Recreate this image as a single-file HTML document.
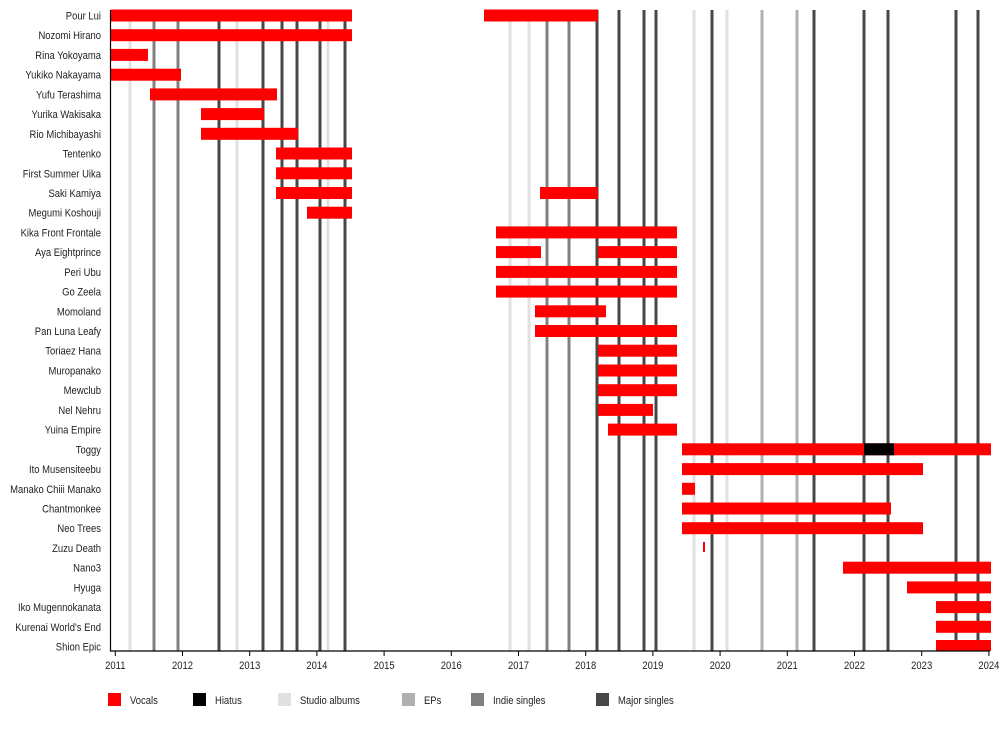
<!DOCTYPE html>
<html><head><meta charset="utf-8"><style>
html,body{margin:0;padding:0;background:#fff;}
svg{display:block;font-family:"Liberation Sans",sans-serif;}
</style></head><body>
<svg width="1000" height="745" viewBox="0 0 1000 745" xmlns="http://www.w3.org/2000/svg">
<g stroke-width="3">
<g stroke="#e0e0e0">
<line x1="130" y1="10" x2="130" y2="651"/><line x1="237" y1="10" x2="237" y2="651"/><line x1="328" y1="10" x2="328" y2="651"/><line x1="510" y1="10" x2="510" y2="651"/><line x1="529" y1="10" x2="529" y2="651"/><line x1="694" y1="10" x2="694" y2="651"/><line x1="727" y1="10" x2="727" y2="651"/>
</g>
<g stroke="#b0b0b0">
<line x1="762" y1="10" x2="762" y2="651"/><line x1="797" y1="10" x2="797" y2="651"/>
</g>
<g stroke="#808080">
<line x1="154" y1="10" x2="154" y2="651"/><line x1="178" y1="10" x2="178" y2="651"/><line x1="547" y1="10" x2="547" y2="651"/><line x1="569" y1="10" x2="569" y2="651"/>
</g>
<g stroke="#474747">
<line x1="219" y1="10" x2="219" y2="651"/><line x1="263" y1="10" x2="263" y2="651"/><line x1="282" y1="10" x2="282" y2="651"/><line x1="297" y1="10" x2="297" y2="651"/><line x1="320" y1="10" x2="320" y2="651"/><line x1="345" y1="10" x2="345" y2="651"/><line x1="597" y1="10" x2="597" y2="651"/><line x1="619" y1="10" x2="619" y2="651"/><line x1="644" y1="10" x2="644" y2="651"/><line x1="656" y1="10" x2="656" y2="651"/><line x1="712" y1="10" x2="712" y2="651"/><line x1="814" y1="10" x2="814" y2="651"/><line x1="864" y1="10" x2="864" y2="651"/><line x1="888" y1="10" x2="888" y2="651"/><line x1="956" y1="10" x2="956" y2="651"/><line x1="978" y1="10" x2="978" y2="651"/>
</g>
</g>
<g fill="#ff0000">
<rect x="111" y="9.5" width="241" height="12"/><rect x="484" y="9.5" width="114" height="12"/>
<rect x="111" y="29.2" width="241" height="12"/>
<rect x="111" y="48.9" width="37" height="12"/>
<rect x="111" y="68.7" width="70" height="12"/>
<rect x="150" y="88.4" width="127" height="12"/>
<rect x="201" y="108.1" width="63" height="12"/>
<rect x="201" y="127.8" width="97" height="12"/>
<rect x="276" y="147.5" width="76" height="12"/>
<rect x="276" y="167.3" width="76" height="12"/>
<rect x="276" y="187" width="76" height="12"/><rect x="540" y="187" width="58" height="12"/>
<rect x="307" y="206.7" width="45" height="12"/>
<rect x="496" y="226.4" width="181" height="12"/>
<rect x="496" y="246.1" width="45" height="12"/><rect x="598" y="246.1" width="79" height="12"/>
<rect x="496" y="265.9" width="181" height="12"/>
<rect x="496" y="285.6" width="181" height="12"/>
<rect x="535" y="305.3" width="71" height="12"/>
<rect x="535" y="325" width="142" height="12"/>
<rect x="598" y="344.7" width="79" height="12"/>
<rect x="598" y="364.5" width="79" height="12"/>
<rect x="598" y="384.2" width="79" height="12"/>
<rect x="598" y="403.9" width="55" height="12"/>
<rect x="608" y="423.6" width="69" height="12"/>
<rect x="682" y="443.3" width="309" height="12"/>
<rect x="682" y="463.1" width="241" height="12"/>
<rect x="682" y="482.8" width="13" height="12"/>
<rect x="682" y="502.5" width="209" height="12"/>
<rect x="682" y="522.2" width="241" height="12"/>
<rect x="703" y="542" width="2" height="10"/>
<rect x="843" y="561.7" width="148" height="12"/>
<rect x="907" y="581.4" width="84" height="12"/>
<rect x="936" y="601.1" width="55" height="12"/>
<rect x="936" y="620.8" width="55" height="12"/>
<rect x="936" y="640" width="55" height="11"/>
</g>
<rect x="864" y="443.3" width="30" height="12" fill="#000"/>
<line x1="110.5" y1="10" x2="110.5" y2="651" stroke="#000" stroke-width="1.2"/>
<line x1="110" y1="651" x2="990" y2="651" stroke="#000" stroke-width="1.2"/>
<g stroke="#000" stroke-width="1">
<line x1="115.3" y1="651" x2="115.3" y2="656"/><line x1="182.5" y1="651" x2="182.5" y2="656"/><line x1="249.7" y1="651" x2="249.7" y2="656"/><line x1="316.9" y1="651" x2="316.9" y2="656"/><line x1="384.1" y1="651" x2="384.1" y2="656"/><line x1="451.3" y1="651" x2="451.3" y2="656"/><line x1="518.5" y1="651" x2="518.5" y2="656"/><line x1="585.7" y1="651" x2="585.7" y2="656"/><line x1="652.9" y1="651" x2="652.9" y2="656"/><line x1="720.1" y1="651" x2="720.1" y2="656"/><line x1="787.3" y1="651" x2="787.3" y2="656"/><line x1="854.5" y1="651" x2="854.5" y2="656"/><line x1="921.7" y1="651" x2="921.7" y2="656"/><line x1="988.9" y1="651" x2="988.9" y2="656"/>
</g>
<g transform="scale(0.86,1)">
<g font-size="11" fill="#222" text-anchor="middle">
<text x="134.07" y="669">2011</text><text x="212.21" y="669">2012</text><text x="290.35" y="669">2013</text><text x="368.49" y="669">2014</text><text x="446.63" y="669">2015</text><text x="524.77" y="669">2016</text><text x="602.91" y="669">2017</text><text x="681.05" y="669">2018</text><text x="759.19" y="669">2019</text><text x="837.33" y="669">2020</text><text x="915.47" y="669">2021</text><text x="993.6" y="669">2022</text><text x="1071.74" y="669">2023</text><text x="1149.88" y="669">2024</text>
</g>
<g font-size="11" fill="#222" text-anchor="end">
<text x="117.44" y="19.5">Pour Lui</text>
<text x="117.44" y="39.2">Nozomi Hirano</text>
<text x="117.44" y="58.9">Rina Yokoyama</text>
<text x="117.44" y="78.7">Yukiko Nakayama</text>
<text x="117.44" y="98.4">Yufu Terashima</text>
<text x="117.44" y="118.1">Yurika Wakisaka</text>
<text x="117.44" y="137.8">Rio Michibayashi</text>
<text x="117.44" y="157.5">Tentenko</text>
<text x="117.44" y="177.3">First Summer Uika</text>
<text x="117.44" y="197">Saki Kamiya</text>
<text x="117.44" y="216.7">Megumi Koshouji</text>
<text x="117.44" y="236.4">Kika Front Frontale</text>
<text x="117.44" y="256.1">Aya Eightprince</text>
<text x="117.44" y="275.9">Peri Ubu</text>
<text x="117.44" y="295.6">Go Zeela</text>
<text x="117.44" y="315.3">Momoland</text>
<text x="117.44" y="335">Pan Luna Leafy</text>
<text x="117.44" y="354.7">Toriaez Hana</text>
<text x="117.44" y="374.5">Muropanako</text>
<text x="117.44" y="394.2">Mewclub</text>
<text x="117.44" y="413.9">Nel Nehru</text>
<text x="117.44" y="433.6">Yuina Empire</text>
<text x="117.44" y="453.3">Toggy</text>
<text x="117.44" y="473.1">Ito Musensiteebu</text>
<text x="117.44" y="492.8">Manako Chiii Manako</text>
<text x="117.44" y="512.5">Chantmonkee</text>
<text x="117.44" y="532.2">Neo Trees</text>
<text x="117.44" y="552">Zuzu Death</text>
<text x="117.44" y="571.7">Nano3</text>
<text x="117.44" y="591.4">Hyuga</text>
<text x="117.44" y="611.1">Iko Mugennokanata</text>
<text x="117.44" y="630.8">Kurenai World's End</text>
<text x="117.44" y="650.6">Shion Epic</text>
</g>
<g font-size="11" fill="#222">
<text x="151.16" y="704">Vocals</text>
<text x="250" y="704">Hiatus</text>
<text x="348.84" y="704">Studio albums</text>
<text x="493.02" y="704">EPs</text>
<text x="573.26" y="704">Indie singles</text>
<text x="718.6" y="704">Major singles</text>
</g>
</g>
<rect x="108" y="693" width="13" height="13" fill="#ff0000"/>
<rect x="193" y="693" width="13" height="13" fill="#000"/>
<rect x="278" y="693" width="13" height="13" fill="#e0e0e0"/>
<rect x="402" y="693" width="13" height="13" fill="#b0b0b0"/>
<rect x="471" y="693" width="13" height="13" fill="#808080"/>
<rect x="596" y="693" width="13" height="13" fill="#474747"/>
</svg>
</body></html>
